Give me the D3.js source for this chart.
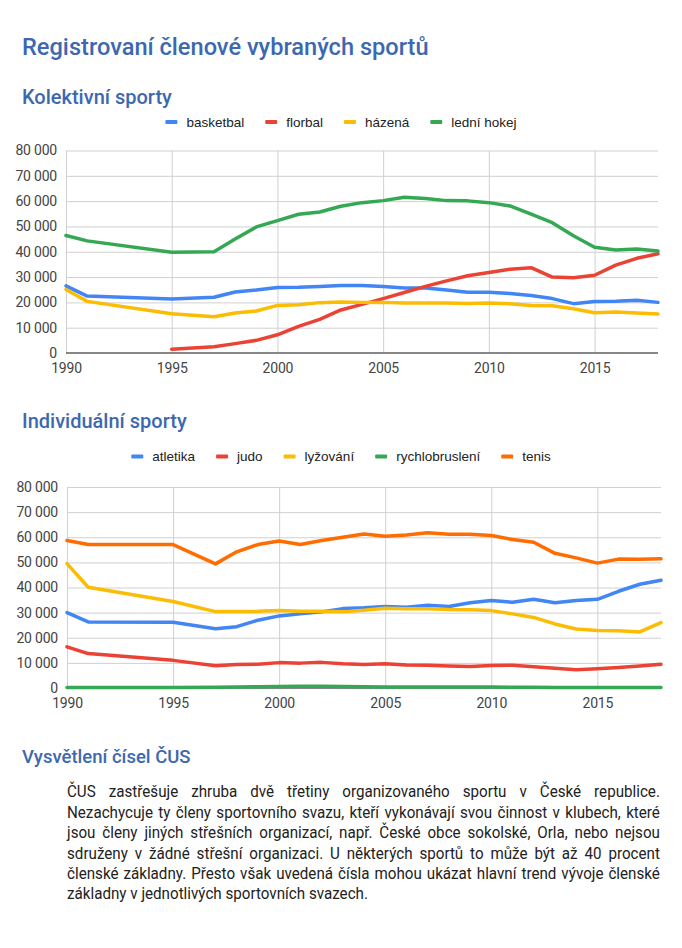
<!DOCTYPE html>
<html>
<head>
<meta charset="utf-8">
<script src="https://cdn.jsdelivr.net/npm/d3@7"></script>
<style>
  html, body { margin: 0; padding: 0; background: #fff; }
  svg { display: block; }
</style>
</head>
<body>
<svg id="page" width="682" height="948"></svg>
<script>
// ---------- DATA ----------
const years = [1990, 1991, 1995, 1997, 1998, 1999, 2000, 2001, 2002, 2003, 2004, 2005, 2006, 2007, 2008, 2009, 2010, 2011, 2012, 2013, 2014, 2015, 2016, 2017, 2018];

// Kolektivní sporty
const kolektivniNames = ["basketbal", "florbal", "házená", "lední hokej"];
const basketbal = [26500, 22500, 21300, 22000, 24100, 24900, 25900, 26000, 26300, 26700, 26700, 26300, 25700, 25700, 24900, 24000, 24000, 23500, 22700, 21500, 19500, 20300, 20400, 20800, 20000];
const florbal   = [null, null, 1500, 2500, 3700, 5000, 7200, 10500, 13300, 17000, 19200, 21500, 23900, 26300, 28500, 30500, 31800, 33100, 33700, 30000, 29700, 30700, 34700, 37400, 39200];
const hazena    = [25100, 20400, 15500, 14300, 15800, 16600, 18800, 19100, 19900, 20100, 20000, 20000, 19800, 19800, 19800, 19600, 19800, 19500, 18800, 18700, 17500, 15900, 16200, 15800, 15400];
const hokej     = [46400, 44300, 39800, 40000, 45000, 49800, 52300, 54800, 55700, 58000, 59400, 60200, 61500, 61000, 60200, 60100, 59400, 58100, 54900, 51500, 46300, 41800, 40700, 41100, 40300];

// Individuální sporty
const individualniNames = ["atletika", "judo", "lyžování", "rychlobruslení", "tenis"];
const atletika  = [30000, 26300, 26200, 23600, 24400, 27000, 28700, 29500, 30300, 31600, 31900, 32400, 32100, 32900, 32400, 33900, 34800, 34100, 35300, 33900, 34800, 35300, 38500, 41300, 42900];
const judo      = [16400, 13700, 11000, 8900, 9400, 9500, 10100, 9900, 10200, 9700, 9400, 9700, 9200, 9100, 8800, 8600, 9000, 9100, 8500, 7900, 7300, 7700, 8200, 8800, 9500];
const lyzovani  = [49500, 40100, 34400, 30400, 30400, 30500, 30800, 30500, 30500, 30300, 30900, 31700, 31500, 31500, 31200, 31100, 30800, 29500, 28100, 25500, 23500, 22900, 22800, 22300, 26000];
const rychlobrusleni = [200, 200, 200, 300, 400, 500, 600, 700, 700, 600, 500, 400, 400, 400, 400, 400, 400, 300, 300, 200, 200, 200, 200, 200, 200];
const tenis     = [58700, 57100, 57100, 49400, 54200, 57100, 58500, 57100, 58700, 60000, 61300, 60400, 60900, 61800, 61200, 61200, 60700, 59100, 58000, 53600, 51800, 49700, 51300, 51200, 51400];

// Axes
const yTicks = [0, 10000, 20000, 30000, 40000, 50000, 60000, 70000, 80000];
const xTicks = [1990, 1995, 2000, 2005, 2010, 2015];

// Texts
const titleText = "Registrovaní členové vybraných sportů";
const heading1 = "Kolektivní sporty";
const heading2 = "Individuální sporty";
const heading3 = "Vysvětlení čísel ČUS";
const paragraphLines = [
  "ČUS zastřešuje zhruba dvě třetiny organizovaného sportu v České republice.",
  "Nezachycuje ty členy sportovního svazu, kteří vykonávají svou činnost v klubech, které",
  "jsou členy jiných střešních organizací, např. České obce sokolské, Orla, nebo nejsou",
  "sdruženy v žádné střešní organizaci. U některých sportů to může být až 40 procent",
  "členské základny. Přesto však uvedená čísla mohou ukázat hlavní trend vývoje členské",
  "základny v jednotlivých sportovních svazech."
];

const C = { blue: "#4285F4", red: "#EA4335", yellow: "#FBBC04", green: "#34A853", orange: "#FF6D01" };

// ---------- DRAW ----------
const svg = d3.select("#page");
const headColor = "#3d68b0";
const fmt = d3.formatLocale({ decimal: ",", thousands: "\u00a0", grouping: [3], currency: ["", ""] }).format(",d");

function heading(text, x, y, size) {
  svg.append("text").attr("x", x).attr("y", y)
    .attr("font-family", "Roboto, 'Noto Sans', sans-serif")
    .attr("font-size", size).attr("font-weight", 500)
    .attr("fill", headColor).text(text);
}

heading(titleText, 22, 55, 23.6);
heading(heading1, 22, 104, 20);
heading(heading2, 22, 428, 20);
heading(heading3, 22, 763, 18.5);

function chart(opts) {
  const { x0, x1, yBase, yTop, series, legendY } = opts;
  const x = d3.scaleLinear().domain([1990, 2018]).range([x0, x1]);
  const y = d3.scaleLinear().domain([0, 80000]).range([yBase, yTop]);
  const g = svg.append("g");

  // horizontal grid + y labels
  const ya = g.append("g").attr("transform", `translate(${x0},0)`)
    .call(d3.axisLeft(y).tickValues(yTicks).tickSize(-(x1 - x0)).tickPadding(9).tickFormat(fmt));
  ya.select(".domain").remove();
  ya.selectAll(".tick line").attr("stroke", "#d0d0d0").attr("stroke-width", 1)
    .filter(d => d === 0).remove();
  ya.selectAll(".tick text").attr("font-family", "Roboto, sans-serif").attr("font-size", 14)
    .attr("fill", "#444").attr("letter-spacing", "-0.2px");

  // vertical grid + x labels
  const xa = g.append("g").attr("transform", `translate(0,${yBase})`)
    .call(d3.axisBottom(x).tickValues(xTicks).tickSize(-(yBase - yTop)).tickPadding(10).tickFormat(d3.format("d")));
  xa.select(".domain").remove();
  xa.selectAll(".tick line").attr("stroke", "#d0d0d0").attr("stroke-width", 1);
  xa.selectAll(".tick text").attr("font-family", "Roboto, sans-serif").attr("font-size", 14)
    .attr("fill", "#444").attr("letter-spacing", "-0.2px");

  // baseline
  g.append("line").attr("x1", x0).attr("x2", x1).attr("y1", y(0)).attr("y2", y(0))
    .attr("stroke", "#5f5f5f").attr("stroke-width", 1.5);

  // lines
  const line = d3.line().defined(d => d[1] != null).x(d => x(d[0])).y(d => y(d[1]));
  series.forEach(s => {
    g.append("path").datum(years.map((yr, i) => [yr, s.values[i]]))
      .attr("d", line).attr("fill", "none").attr("stroke", s.color)
      .attr("stroke-width", 3.5).attr("stroke-linejoin", "round").attr("stroke-linecap", "round");
  });

  // legend
  const lg = svg.append("g");
  let cx = 0;
  series.forEach((s, i) => {
    const item = lg.append("g").attr("transform", `translate(${cx},0)`);
    item.append("rect").attr("x", 0).attr("y", legendY - 2).attr("width", 12).attr("height", 4)
      .attr("rx", 1).attr("fill", s.color);
    const t = item.append("text").attr("x", 21).attr("y", legendY + 4.7)
      .attr("font-family", "'Liberation Sans', Arial, sans-serif").attr("font-size", 13.5)
      .attr("fill", "#222").text(s.name);
    cx += 21 + t.node().getComputedTextLength() + 21;
  });
  const total = cx - 21;
  lg.attr("transform", `translate(${341 - total / 2},0)`);
}

chart({
  x0: 66, x1: 658, yBase: 353, yTop: 150.5, legendY: 122,
  series: [
    { name: kolektivniNames[0], values: basketbal, color: C.blue },
    { name: kolektivniNames[1], values: florbal, color: C.red },
    { name: kolektivniNames[2], values: hazena, color: C.yellow },
    { name: kolektivniNames[3], values: hokej, color: C.green }
  ]
});

chart({
  x0: 67, x1: 661, yBase: 688, yTop: 487, legendY: 456.5,
  series: [
    { name: individualniNames[0], values: atletika, color: C.blue },
    { name: individualniNames[1], values: judo, color: C.red },
    { name: individualniNames[2], values: lyzovani, color: C.yellow },
    { name: individualniNames[3], values: rychlobrusleni, color: C.green },
    { name: individualniNames[4], values: tenis, color: C.orange }
  ]
});

// paragraph (justified, condensed)
const pg = svg.append("g");
const pLeft = 67, pWidth = 593, lastLineWidth = 301;
const texts = paragraphLines.map((ln, i) => pg.append("text")
  .attr("x", 0).attr("y", 797.5 + i * 20.4)
  .attr("font-family", "Roboto, sans-serif").attr("font-size", 17)
  .attr("fill", "#222").text(ln));
const widths = texts.map(t => t.node().getComputedTextLength());
const k = Math.min(pWidth / d3.max(widths), lastLineWidth / widths[widths.length - 1]);
pg.attr("transform", `translate(${pLeft},0) scale(${k},1)`);
texts.forEach((t, i) => {
  if (i === texts.length - 1) return;
  const spaces = (paragraphLines[i].match(/ /g) || []).length;
  const extra = (pWidth / k - widths[i]) / spaces;
  t.style("word-spacing", extra + "px");
});
</script>
</body>
</html>
